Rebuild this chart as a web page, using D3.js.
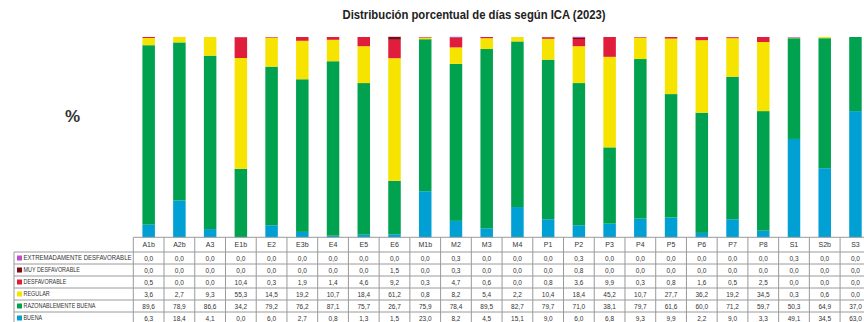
<!DOCTYPE html>
<html>
<head>
<meta charset="utf-8">
<script src="https://cdn.jsdelivr.net/npm/d3@7"></script>
<style>
  html, body { margin: 0; padding: 0; background: #fff; }
  svg { display: block; font-family: "Liberation Sans", Arial, sans-serif; }
</style>
</head>
<body>
<svg id="chart" width="864" height="322"></svg>
<script>
// Monitoring stations
const stations = ["A1b","A2b","A3","E1b","E2","E3b","E4","E5","E6","M1b","M2","M3","M4",
                  "P1","P2","P3","P4","P5","P6","P7","P8","S1","S2b","S3"];

// Share of days (%) per air-quality index class
const extremadamente = [0.0,0.0,0.0,0.0,0.0,0.0,0.0,0.0,0.0,0.0,0.3,0.0,0.0,0.0,0.3,0.0,0.0,0.0,0.0,0.0,0.0,0.3,0.0,0.0];
const muyDesfavorable = [0.0,0.0,0.0,0.0,0.0,0.0,0.0,0.0,1.5,0.0,0.3,0.0,0.0,0.0,0.8,0.0,0.0,0.0,0.0,0.0,0.0,0.0,0.0,0.0];
const desfavorable = [0.5,0.0,0.0,10.4,0.3,1.9,1.4,4.6,9.2,0.3,4.7,0.6,0.0,0.8,3.6,9.9,0.3,0.8,1.6,0.5,2.5,0.0,0.0,0.0];
const regular = [3.6,2.7,9.3,55.3,14.5,19.2,10.7,18.4,61.2,0.8,8.2,5.4,2.2,10.4,18.4,45.2,10.7,27.7,36.2,19.2,34.5,0.3,0.6,0.0];
const razonablementeBuena = [89.6,78.9,86.6,34.2,79.2,76.2,87.1,75.7,26.7,75.9,78.4,89.5,82.7,79.7,71.0,38.1,79.7,61.6,60.0,71.2,59.7,50.3,64.9,37.0];
const buena = [6.3,18.4,4.1,0.0,6.0,2.7,0.8,1.3,1.5,23.0,8.2,4.5,15.1,9.0,6.0,6.8,9.3,9.9,2.2,9.0,3.3,49.1,34.5,63.0];

const seriesNames = ["EXTREMADAMENTE DESFAVORABLE","MUY DESFAVORABLE","DESFAVORABLE",
                     "REGULAR","RAZONABLEMENTE BUENA","BUENA"];
const seriesValues = [extremadamente, muyDesfavorable, desfavorable, regular, razonablementeBuena, buena];
const seriesColors = ["#c04ec8","#7d0a16","#e01e3c","#f6e400","#00a250","#00a0d4"];

const title = "Distribución porcentual de días según ICA (2023)";

const svg = d3.select("#chart");

// Layout
const tableLeft = 133.3, colW = 30.73;
const legendLeft = 14;
const plotTop = 37, plotBottom = 237.3;
const headerTop = 237.3, headerH = 14.7, rowH = 12;
const rowsTop = headerTop + headerH;

const x = d3.scaleBand()
  .domain(stations)
  .range([tableLeft, tableLeft + colW * stations.length])
  .paddingInner(0).paddingOuter(0);

const y = d3.scaleLinear().domain([0, 100]).range([plotBottom, plotTop]);

// Stacked bars, BUENA at the bottom
const rows = stations.map((s, i) => {
  const r = { station: s };
  seriesNames.forEach((n, k) => r[n] = seriesValues[k][i]);
  return r;
});
const stackKeys = seriesNames.slice().reverse();
const colorOf = d3.scaleOrdinal().domain(seriesNames).range(seriesColors);
const stacked = d3.stack().keys(stackKeys)(rows);

const barW = 12.5;
svg.append("g").selectAll("g")
  .data(stacked).join("g")
    .attr("fill", d => colorOf(d.key))
  .selectAll("rect")
  .data(d => d).join("rect")
    .attr("x", d => x(d.data.station) + x.bandwidth() / 2 - barW / 2)
    .attr("width", barW)
    .attr("y", d => y(d[1]))
    .attr("height", d => Math.max(0, y(d[0]) - y(d[1])));

// Title and axis label
svg.append("text")
  .attr("x", 474).attr("y", 19)
  .attr("text-anchor", "middle")
  .attr("font-weight", "bold").attr("font-size", 12)
  .attr("textLength", 263).attr("lengthAdjust", "spacingAndGlyphs")
  .attr("fill", "#222")
  .text(title);

svg.append("text")
  .attr("x", 72.5).attr("y", 122)
  .attr("text-anchor", "middle")
  .attr("font-weight", "bold").attr("font-size", 17)
  .attr("fill", "#333")
  .text("%");

// Data table
const grid = svg.append("g").attr("stroke", "#9a9a9a").attr("stroke-width", 1).attr("fill", "none");
const tableRight = tableLeft + colW * stations.length;
const tableBottom = rowsTop + rowH * seriesNames.length;

// header top
grid.append("line").attr("x1", tableLeft).attr("x2", tableRight).attr("y1", headerTop).attr("y2", headerTop);
// row lines
for (let i = 0; i <= seriesNames.length; i++) {
  const yy = rowsTop + i * rowH;
  grid.append("line").attr("x1", legendLeft).attr("x2", tableRight).attr("y1", yy).attr("y2", yy);
}
// column lines
stations.forEach((s, i) => {
  grid.append("line").attr("x1", x(s)).attr("x2", x(s)).attr("y1", headerTop).attr("y2", tableBottom);
});
grid.append("line").attr("x1", tableRight).attr("x2", tableRight).attr("y1", headerTop).attr("y2", tableBottom);
grid.append("line").attr("x1", legendLeft).attr("x2", legendLeft).attr("y1", rowsTop).attr("y2", tableBottom);

// header labels
svg.append("g").selectAll("text")
  .data(stations).join("text")
    .attr("x", d => x(d) + x.bandwidth() / 2)
    .attr("y", headerTop + headerH / 2 + 2.5)
    .attr("text-anchor", "middle")
    .attr("font-size", 7)
    .attr("fill", "#333")
    .text(d => d);

// legend cells
const leg = svg.append("g").selectAll("g")
  .data(seriesNames).join("g")
    .attr("transform", (d, i) => `translate(0,${rowsTop + i * rowH})`);
leg.append("rect")
  .attr("x", 17).attr("y", 3.5).attr("width", 5).attr("height", 5)
  .attr("fill", d => colorOf(d));
leg.append("text")
  .attr("x", 23.5).attr("y", 8.3)
  .attr("font-size", 6.3)
  .attr("fill", "#333")
  .each(function (d) {
    const t = d3.select(this).text(d);
    const w = this.getComputedTextLength();
    const maxW = 108;
    if (w > maxW) t.attr("textLength", maxW).attr("lengthAdjust", "spacingAndGlyphs");
    else t.attr("textLength", w * 0.86).attr("lengthAdjust", "spacingAndGlyphs");
  });

// values
const fmt = v => d3.format(".1f")(v).replace(".", ",");
seriesNames.forEach((n, k) => {
  svg.append("g").selectAll("text")
    .data(seriesValues[k]).join("text")
      .attr("x", (d, i) => x(stations[i]) + x.bandwidth() / 2)
      .attr("y", rowsTop + k * rowH + 8.5)
      .attr("text-anchor", "middle")
      .attr("font-size", 6.5)
      .attr("fill", "#333")
      .text(d => fmt(d));
});
</script>
</body>
</html>
